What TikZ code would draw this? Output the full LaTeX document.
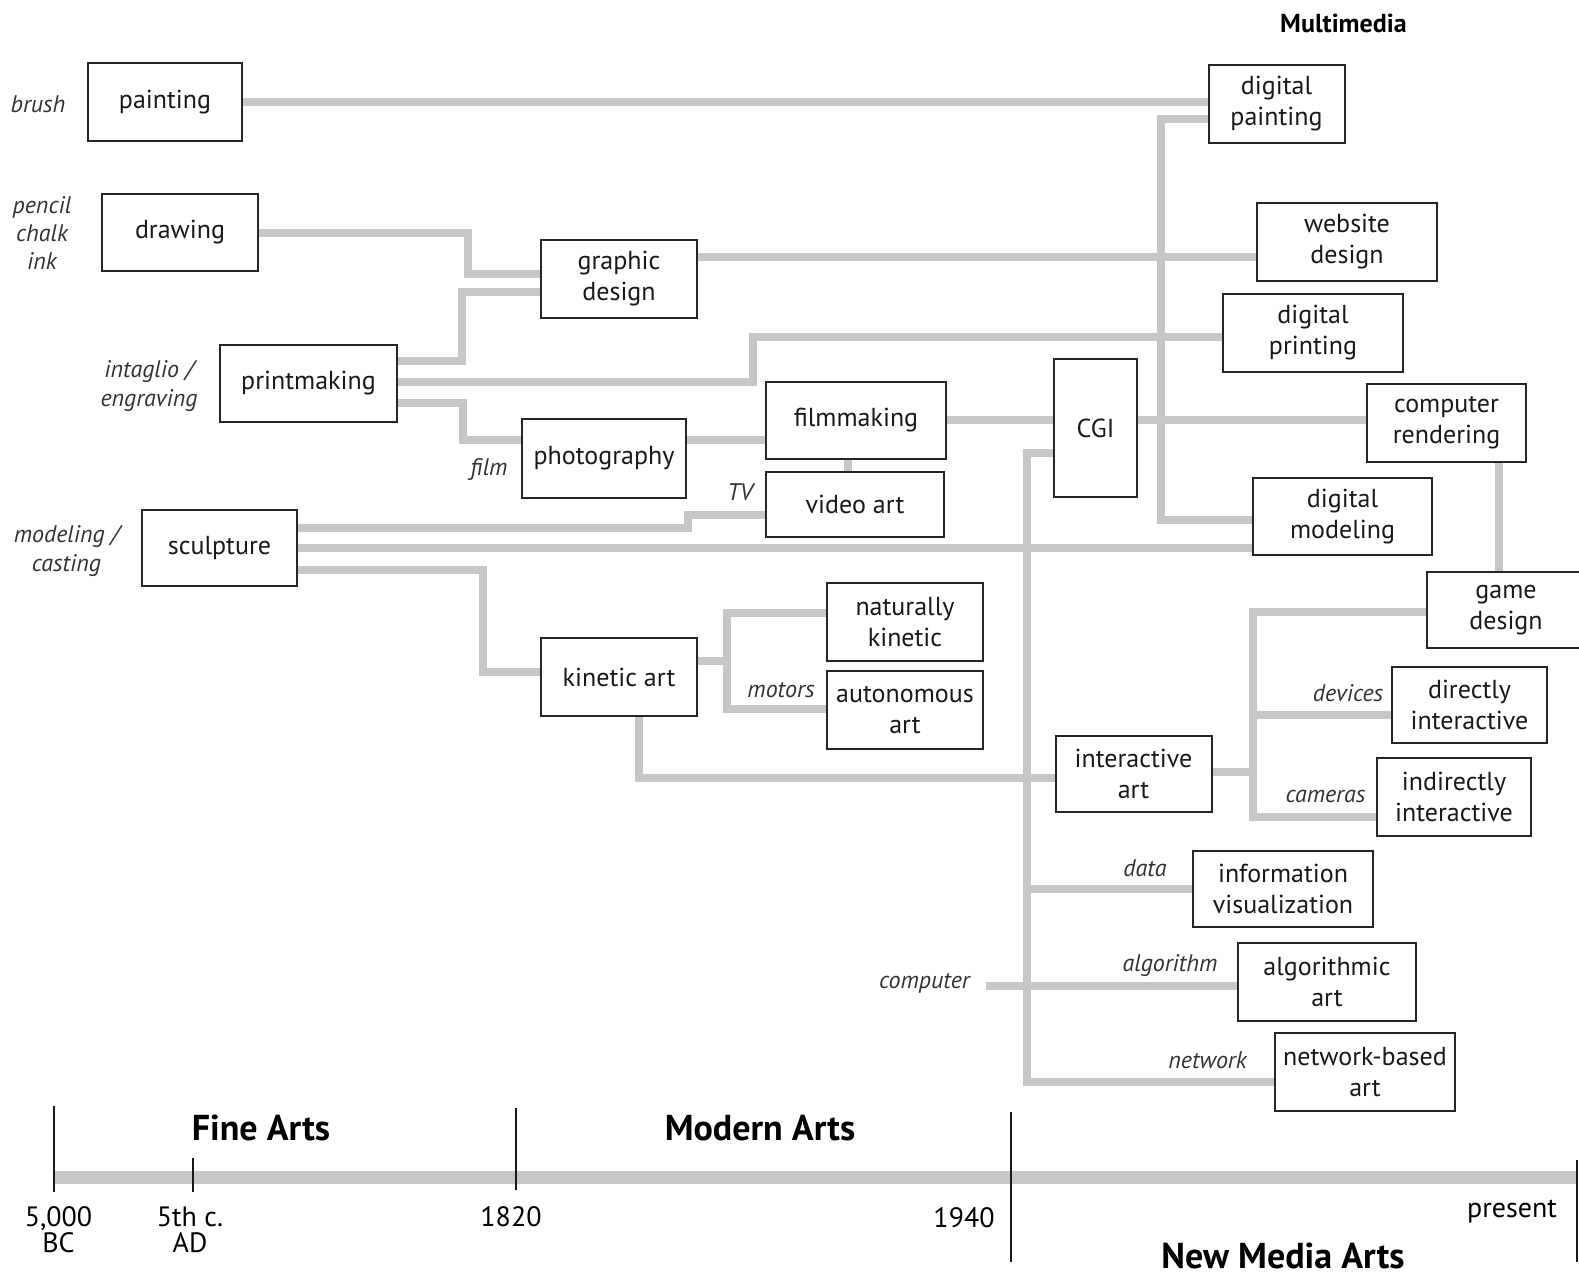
\documentclass[tikz,border=0pt]{standalone}
\usepackage{fontspec}
\setmainfont{PT Sans}
\usetikzlibrary{backgrounds}

\begin{document}
\begin{tikzpicture}[x=0.5pt, y=-0.5pt,
		caja/.style={draw=black!85, line width=1pt, fill=white, align=center, inner sep=0pt, text=black!90, font=\fontsize{13}{15.5}\selectfont},
		enlace/.style={draw=black!22, line width=4pt},
		etiqueta/.style={inner sep=0pt, align=center, text=black!80, font=\fontsize{12}{14.5}\selectfont\itshape},
		titulo/.style={inner sep=0pt, font=\fontsize{18}{20}\selectfont\bfseries},
		fecha/.style={inner sep=0pt, align=center, font=\fontsize{14}{13}\selectfont},
		eje/.style={draw=black!22, line width=6.5pt},
		marca/.style={draw=black!90, line width=1pt}]
		\useasboundingbox (0,0) rectangle (1579,1282); % tamaño de la imagen

		% cajas de las artes
		\node[caja, minimum width=77pt, minimum height=39.25pt] (painting) at (165,102) {painting};
		\node[caja, minimum width=78pt, minimum height=38.5pt] (drawing) at (180,232.5) {drawing};
		\node[caja, minimum width=77.75pt, minimum height=38.75pt] (gdesign) at (619,279) {graphic\\design};
		\node[caja, minimum width=88.5pt, minimum height=38.5pt] (printmaking) at (308.5,383.5) {printmaking};
		\node[caja, minimum width=82.25pt, minimum height=39.5pt] (photography) at (604,458.5) {photography};
		\node[caja, minimum width=90pt, minimum height=38.5pt] (filmmaking) at (856,420.5) {filmmaking};
		\node[caja, minimum width=89pt, minimum height=32.5pt] (videoart) at (855,504.5) {video art};
		\node[caja, minimum width=77.5pt, minimum height=38.25pt] (sculpture) at (219.5,548) {sculpture};
		\node[caja, minimum width=77.75pt, minimum height=38.75pt] (kinetic) at (619,677) {kinetic art};
		\node[caja, minimum width=78.25pt, minimum height=38.75pt] (natkin) at (905,622) {naturally\\kinetic};
		\node[caja, minimum width=78.25pt, minimum height=39pt] (autonom) at (905,710) {autonomous\\art};
		\node[caja, minimum width=41.5pt, minimum height=69pt] (cgi) at (1095.5,428) {CGI};

		% cajas de multimedia
		\node[caja, minimum width=68pt, minimum height=39.25pt] (dpaint) at (1276.5,104) {digital\\painting};
		\node[caja, minimum width=89.75pt, minimum height=38.75pt] (website) at (1347,242) {website\\design};
		\node[caja, minimum width=89.75pt, minimum height=39pt] (dprint) at (1313,333) {digital\\printing};
		\node[caja, minimum width=79.5pt, minimum height=39pt] (render) at (1446.5,423) {computer\\rendering};
		\node[caja, minimum width=89.5pt, minimum height=38.75pt] (dmodel) at (1342.5,516.5) {digital\\modeling};
		\node[caja, minimum width=79pt, minimum height=38pt] (game) at (1506,610) {game\\design};
		\node[caja, minimum width=77.5pt, minimum height=38.25pt] (direct) at (1469.5,705) {directly\\interactive};
		\node[caja, minimum width=77pt, minimum height=38.75pt] (indirect) at (1454,797) {indirectly\\interactive};
		\node[caja, minimum width=78pt, minimum height=38.25pt] (interact) at (1133.5,774) {interactive\\art};
		\node[caja, minimum width=89.75pt, minimum height=38.25pt] (infovis) at (1283,889) {information\\visualization};
		\node[caja, minimum width=89pt, minimum height=38.75pt] (algo) at (1327,982) {algorithmic\\art};
		\node[caja, minimum width=89.75pt, minimum height=39pt] (network) at (1365,1072) {network-based\\art};

		% etiquetas en cursiva
		\node[etiqueta] (brush) at (38,104) {brush};
		\node[etiqueta, font=\fontsize{12}{14}\selectfont\itshape] (pencil) at (42,233) {pencil\\chalk\\ink};
		\node[etiqueta] (intaglio) at (149,386) {intaglio /\\engraving};
		\node[etiqueta] (film) at (489,469) {film};
		\node[etiqueta] (tv) at (740,492) {TV};
		\node[etiqueta] (modeling) at (66.5,551) {modeling /\\casting};
		\node[etiqueta] (motors) at (781,690.5) {motors};
		\node[etiqueta] (devices) at (1348,693.5) {devices};
		\node[etiqueta] (cameras) at (1325.5,796) {cameras};
		\node[etiqueta] (data) at (1145,868) {data};
		\node[etiqueta] (algorithm) at (1170,966) {algorithm};
		\node[etiqueta] (computer) at (924.5,983) {computer};
		\node[etiqueta] (networklbl) at (1207.5,1060.5) {network};
		\node[inner sep=0pt, font=\fontsize{13}{15}\selectfont\bfseries] (multimedia) at (1343.5,23) {Multimedia};

		% enlaces grises (debajo de las cajas)
		\begin{scope}[on background layer]
			\draw[enlace] (painting.east) -- (dpaint.west |- painting.east); % painting a digital painting
			\draw[enlace] ([shift={(0,15)}]dpaint.west) -- ++(-46.5,0) |- ([shift={(0,3.5)}]dmodel.west); % bus x 1162
			\draw[enlace] (drawing.east) -- ++(208.5,0) |- ([shift={(0,-5)}]gdesign.west);
			\draw[enlace] ([shift={(0,-22.5)}]printmaking.east) -- ++(63.5,0) |- ([shift={(0,13)}]gdesign.west);
			\draw[enlace] ([shift={(0,-22)}]gdesign.east) -- ([shift={(0,15)}]website.west);
			\draw[enlace] ([shift={(0,-1.5)}]printmaking.east) -- ++(355,0) |- ([shift={(0,3.5)}]dprint.west);
			\draw[enlace] ([shift={(0,19.5)}]printmaking.east) -- ++(64.5,0) |- ([shift={(0,-18.5)}]photography.west);
			\draw[enlace] ([shift={(0,-18.5)}]photography.east) -- ([shift={(0,19.5)}]filmmaking.west);
			\draw[enlace] ([shift={(0,-0.5)}]filmmaking.east) -- ([shift={(0,-8)}]cgi.west);
			\draw[enlace] ([shift={(-8,0)}]filmmaking.south) -- ([shift={(-7,0)}]videoart.north);
			\draw[enlace] ([shift={(0,-8)}]cgi.east) -- ([shift={(0,-3)}]render.west);
			\draw[enlace] ([shift={(52.5,0)}]render.south) -- ([shift={(-7,0)}]game.north);
			\draw[enlace] ([shift={(0,-20)}]sculpture.east) -- ++(390,0) |- ([shift={(0,10.5)}]videoart.west);
			\draw[enlace] (sculpture.east) -- ([shift={(0,31.5)}]dmodel.west);
			\draw[enlace] ([shift={(0,21.5)}]sculpture.east) -- ++(185,0) |- ([shift={(0,-5)}]kinetic.west);
			\draw[enlace] ([shift={(0,-16)}]kinetic.east) -- ++(29.5,0) coordinate (kfork);
			\draw[enlace] ([shift={(0,-9)}]natkin.west) -| (kfork) |- ([shift={(0,-1.5)}]autonom.west);
			\draw[enlace] ([shift={(20,0)}]kinetic.south) |- ([shift={(0,4)}]interact.west);
			\draw[enlace] ([shift={(0,25)}]cgi.west) -- ++(-26.5,0) coordinate (cbus) |- ([shift={(0,9.5)}]network.west); % bus x 1029
			\draw[enlace] (cbus |- infovis.west) -- (infovis.west);
			\draw[enlace] ([shift={(16,3)}]computer.east) -- ([shift={(0,4)}]algo.west);
			\draw[enlace] ([shift={(0,-2)}]interact.east) -- ++(40.5,0) coordinate (ifork);
			\draw[enlace] ([shift={(0,2)}]game.west) -| (ifork) |- ([shift={(0,19.5)}]indirect.west);
			\draw[enlace] (ifork |- direct.west) ++(0,9.5) -- ([shift={(0,9.5)}]direct.west);
		\end{scope}

		% linea de tiempo
		\draw[eje] (53.5,1177) -- (1578,1177); % eje gris
		\draw[marca] (53.5,1106) -- (53.5,1192); % 5,000 BC
		\draw[marca] (192.5,1158) -- (192.5,1192); % 5th c. AD
		\draw[marca] (515.5,1108) -- (515.5,1190); % 1820
		\draw[marca] (1011,1112) -- (1011,1262); % 1940
		\draw[marca] (1577,1160) -- (1577,1262); % present

		\node[titulo] (fine) at (261,1128) {Fine Arts};
		\node[titulo] (modern) at (760,1128) {Modern Arts};
		\node[titulo] (newmedia) at (1283,1256) {New Media Arts};
		\node[fecha] (bc) at (58.5,1230) {5,000\\BC};
		\node[fecha] (ad) at (190,1230) {5th c.\\AD};
		\node[fecha] (y1820) at (511,1217) {1820};
		\node[fecha] (y1940) at (964,1218) {1940};
		\node[fecha] (present) at (1512,1212) {present};
	\end{tikzpicture}
\end{document}
